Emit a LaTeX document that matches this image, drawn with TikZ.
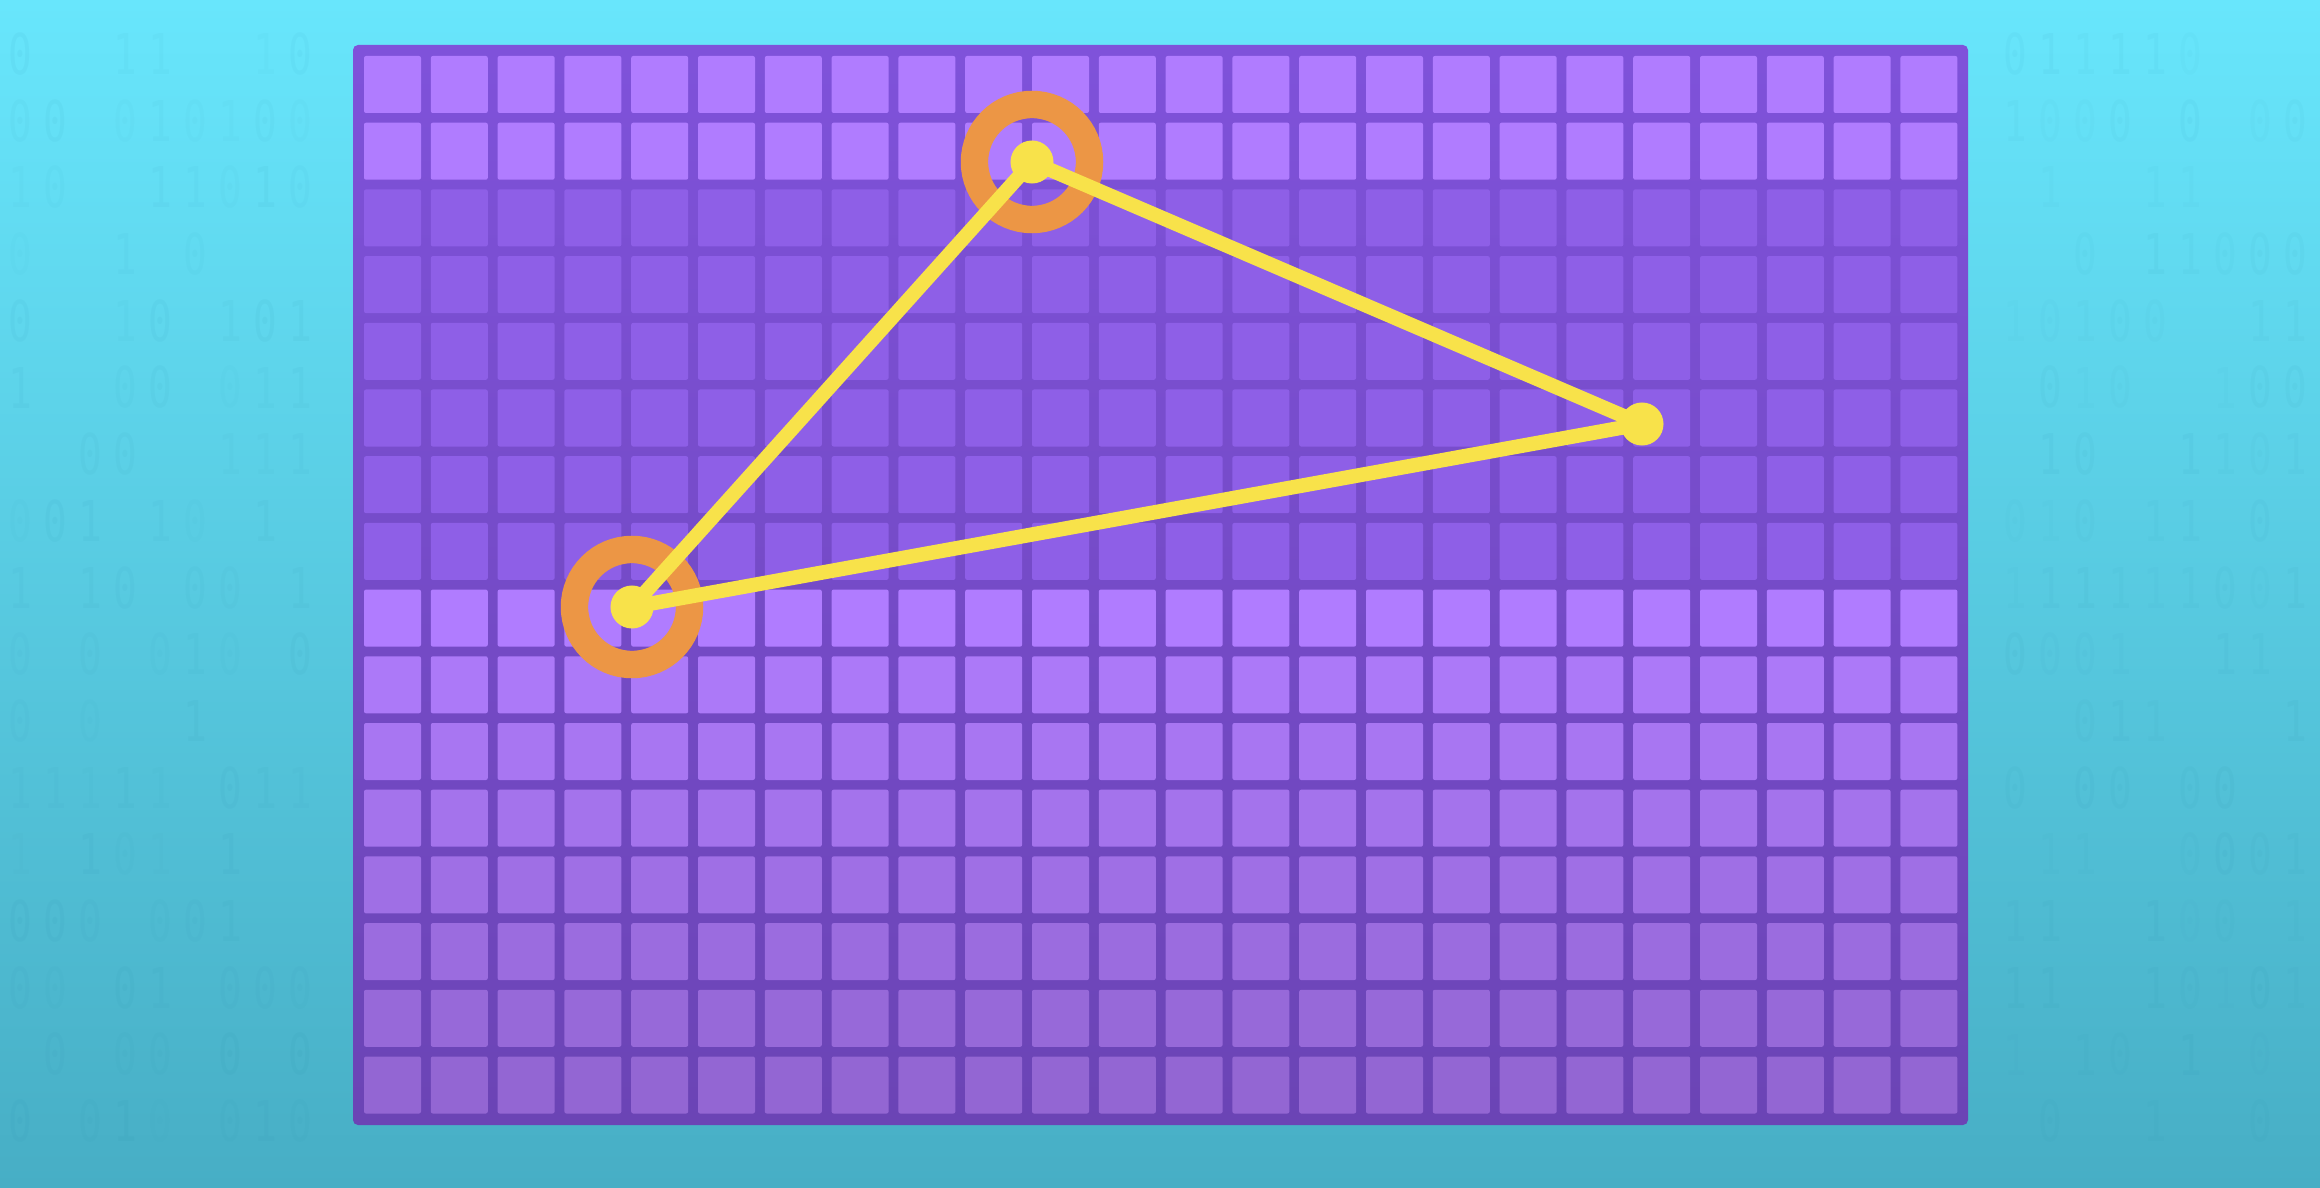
\documentclass[tikz,border=0pt]{standalone}
\usepackage{fontspec}
\newfontfamily\digitfont{DejaVu Sans Mono}
\definecolor{bgtop}{HTML}{68E6FC}
\definecolor{bgmid}{HTML}{5EDEF5}
\definecolor{bgbot}{HTML}{47AEC5}
\definecolor{frametop}{HTML}{7F52DA}
\definecolor{framebot}{HTML}{6B44B5}
\definecolor{celllight}{HTML}{B07CFF}
\definecolor{celldark}{HTML}{8E5FE7}
\definecolor{cellbot}{HTML}{9366D3}
\definecolor{tyellow}{HTML}{F8E24A}
\definecolor{torange}{HTML}{EC9645}
\definecolor{digitcol}{HTML}{1E7FA0}
\tikzset{
  cellbox/.style={rounded corners=0.02cm},
  digit/.style={text=digitcol, font=\digitfont\fontsize{16}{16}\selectfont, xscale=0.7, inner sep=0pt},
  ring/.style={circle, draw=torange, line width=7.8pt, minimum size=1.15cm, inner sep=0pt},
  vdot/.style={circle, fill=tyellow, minimum size=0.43cm, inner sep=0pt},
  edge/.style={draw=tyellow, line width=4.1pt, line join=round, line cap=round}
}
\begin{document}
\begin{tikzpicture}[x=0.01cm,y=0.01cm]
\useasboundingbox (0,0) rectangle (2320,-1188);
% background
\shade[top color=bgtop, middle color=bgmid, bottom color=bgbot] (0,0) rectangle (2320,-1188);
% faint binary digits
\pgfmathsetseed{11}
\foreach \r in {0,...,16}{
  \foreach \c in {0,...,65}{
    \pgfmathsetmacro\xx{20+\c*35}
    \pgfmathsetmacro\yy{54+\r*66.7}
    \pgfmathtruncatemacro\inside{(\xx>330)&&(\xx<1990)&&(\yy>25)&&(\yy<1145)}
    \ifnum\inside=0
      \pgfmathrandominteger\d{0}{2}
      \ifnum\d<2
        \pgfmathsetmacro\op{0.02+0.035*rnd}
        \node[digit, opacity=\op] (b\r c\c) at (\xx,-\yy) {\d};
      \fi
    \fi
  }
}
% grid frame
\shade[top color=frametop, bottom color=framebot, rounded corners=0.05cm] (353,-45) rectangle (1968,-1125);
% cells
\foreach \r in {0,...,15}{
  \ifnum\r<2
    \def\cc{celllight}
  \else\ifnum\r<8
    \def\cc{celldark}
  \else
    \pgfmathtruncatemacro\pct{100-(\r-8)*100/7}
    \edef\cc{celllight!\pct!cellbot}
  \fi\fi
  \foreach \c in {0,...,23}{
    \fill[cellbox, fill=\cc] ({364+\c*66.8},{-56-\r*66.7}) rectangle ++(57,-57);
  }
}
% triangle
\coordinate (A) at (1032,-162);
\coordinate (B) at (632,-607);
\coordinate (C) at (1642,-424);
\node[ring] (ringA) at (A) {};
\node[ring] (ringB) at (B) {};
\draw[edge] (A) -- (B) -- (C) -- cycle;
\node[vdot] (dotA) at (A) {};
\node[vdot] (dotB) at (B) {};
\node[vdot] (dotC) at (C) {};
\end{tikzpicture}
\end{document}
